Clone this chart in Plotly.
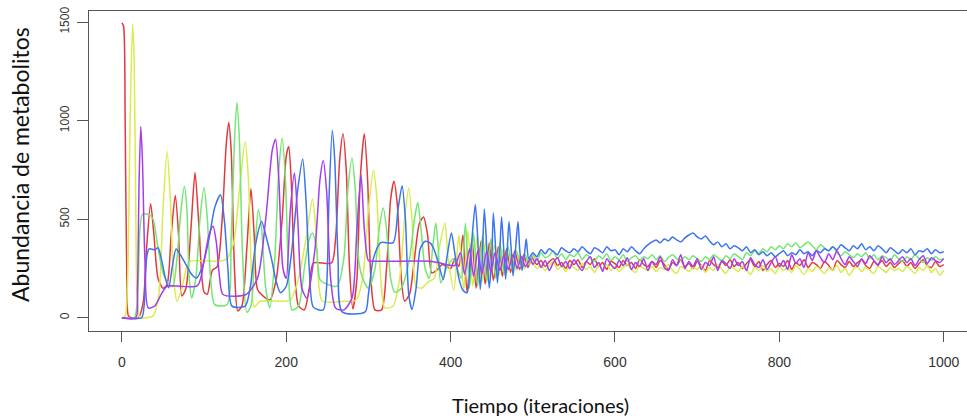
import plotly.graph_objects as go

# ---------------- data ----------------
red_early = [(0,1496),(2,1480),(4,1000),(6,200),(8,10),(12,0),(20,0),(26,80),(30,350),(35,578),(39,420),(44,200),(50,150),(55,170),(60,420),(65,620),(69,420),(73,110),(78,150),(84,450),(89,737),(94,450),(100,130),(104,120),(110,240),(116,260),(122,500),(127,880),(130,990),(133,850),(137,250),(141,35),(146,60),(152,350),(157,655),(161,420),(165,145),(172,110),(180,90),(188,200),(195,500),(200,820),(203,869),(206,700),(210,250),(215,60),(222,40),(228,150),(233,278),(255,278),(260,400),(265,800),(269,933),(273,750),(277,250),(281,45),(286,200),(290,700),(295,933),(299,700),(303,200),(308,40),(316,40),(322,250),(327,600),(331,692),(335,580),(340,200),(344,84),(350,120),(356,300),(362,480),(367,511),(372,420),(377,228),(383,240),(390,270),(400,250),(405,300),(410,260),(415,420),(420,130),(426,400),(431,150),(437,390),(442,170),(447,380),(452,190),(458,360),(463,210),(468,350),(473,230),(478,340),(484,245),(489,320),(494,255),(499,310)]

yellow_early = [(0,0),(4,10),(7,200),(10,1000),(13,1490),(15,1300),(17,500),(19,60),(22,0),(30,0),(38,10),(45,120),(50,550),(55,843),(59,600),(63,200),(67,84),(73,150),(79,260),(84,287),(120,287),(128,300),(136,380),(143,650),(150,894),(154,700),(157,300),(161,55),(168,84),(196,84),(205,90),(215,200),(224,400),(232,602),(236,450),(240,150),(244,84),(273,84),(285,90),(293,200),(300,550),(306,747),(310,620),(315,200),(320,50),(330,60),(338,200),(344,500),(349,658),(353,500),(358,160),(365,150),(372,180),(380,200),(386,350),(393,481),(397,300),(404,140),(410,420),(416,140),(421,440),(427,160),(432,410),(438,180),(443,390),(448,200),(453,370),(459,215),(464,350),(469,230),(474,330),(480,240),(485,320),(490,250),(495,300)]

green_early = [(0,0),(15,0),(19,100),(22,450),(25,525),(33,523),(38,500),(43,380),(50,230),(57,170),(62,160),(67,300),(72,550),(76,666),(79,560),(82,200),(85,101),(90,200),(95,500),(100,661),(104,500),(108,200),(113,67),(128,67),(133,400),(137,900),(140,1092),(143,900),(147,300),(152,28),(157,60),(162,350),(166,548),(170,450),(175,150),(180,50),(186,300),(191,750),(195,911),(199,700),(203,200),(207,40),(215,60),(222,250),(228,400),(232,430),(237,350),(241,194),(250,170),(262,160),(270,300),(275,650),(280,810),(284,650),(288,295),(293,200),(300,150),(308,250),(313,450),(318,557),(322,450),(327,200),(332,130),(340,150),(350,300),(356,500),(360,585),(364,450),(369,250),(374,200),(378,350),(382,481),(385,350),(388,177),(395,250),(403,300),(408,250),(413,200),(418,480),(423,150),(428,430),(433,160),(439,420),(444,180),(449,400),(455,200),(460,380),(465,220),(470,360),(475,240),(480,340),(486,255),(491,320),(496,270)]

blue_early = [(0,0),(24,0),(27,60),(30,300),(33,350),(40,345),(44,355),(48,300),(53,200),(57,152),(61,250),(66,349),(71,320),(78,270),(85,220),(91,202),(98,260),(106,400),(113,560),(120,624),(125,480),(129,250),(134,59),(150,59),(156,150),(163,380),(170,489),(175,420),(182,300),(188,180),(193,127),(200,160),(207,350),(214,650),(220,805),(224,600),(228,250),(233,54),(245,40),(249,150),(252,600),(256,950),(259,800),(263,300),(268,30),(296,30),(300,120),(306,300),(315,381),(330,381),(336,550),(341,670),(345,500),(349,120),(353,42),(358,150),(363,350),(369,388),(375,380),(379,355),(385,280),(391,194),(396,320),(401,430),(405,330),(410,200),(415,140),(420,127),(425,350),(430,574),(433,400),(436,143),(438,250),(441,552),(444,350),(447,150),(450,300),(452,532),(455,330),(457,177),(460,350),(462,511),(465,320),(467,195),(469,350),(471,489),(474,330),(476,212),(479,350),(482,489),(484,350),(487,240),(490,330),(492,400),(495,300)]

purple_early = [(0,0),(17,0),(19,150),(21,700),(23,970),(25,800),(28,300),(32,50),(40,60),(48,120),(55,160),(92,163),(100,290),(106,420),(111,464),(115,380),(119,200),(123,118),(151,118),(165,200),(175,500),(183,850),(187,906),(191,700),(196,250),(200,200),(205,550),(210,734),(214,500),(219,150),(225,100),(235,350),(241,700),(245,798),(249,650),(254,200),(260,50),(270,40),(280,100),(286,450),(291,726),(295,450),(300,290),(305,287),(375,287),(385,280),(395,270),(405,265),(412,330),(417,220),(423,350),(428,210),(433,340),(438,220),(444,340),(449,230),(454,330),(460,240),(465,320),(470,245),(476,320),(481,250),(486,310),(491,260),(497,300)]

late_t = list(range(500, 1001, 5))

red_late = [300,270,290,260,285,300,265,280,250,290,
            270,295,255,285,270,300,260,280,245,285,
            275,255,290,265,280,250,295,270,260,285,
            255,290,270,245,280,265,295,260,275,250,
            285,265,240,290,270,255,285,265,295,260,
            280,250,275,295,260,285,240,270,290,255,
            275,260,290,245,280,265,295,255,280,270,
            250,285,265,240,290,270,255,285,260,280,
            295,265,250,285,270,290,260,280,255,275,
            290,260,280,250,275,295,265,255,285,260,
            270]
yellow_late = [280,250,270,240,265,285,245,260,235,270,
               255,240,275,245,260,230,265,250,270,240,
               260,235,255,270,245,230,265,250,240,260,
               235,255,245,270,240,225,260,250,235,255,
               245,265,230,255,240,270,245,225,260,250,
               235,260,245,220,255,240,265,235,250,225,
               260,240,255,230,265,245,220,250,235,260,
               245,225,255,240,265,230,250,215,245,260,
               235,255,240,225,260,245,230,255,240,250,
               235,260,245,225,255,240,265,230,250,215,
               240]
green_late = [320,290,330,305,315,340,300,325,295,320,
              310,330,295,320,305,285,315,300,325,290,
              310,295,320,285,305,315,290,310,300,320,
              295,315,285,305,320,300,290,310,295,315,
              300,285,310,295,320,305,290,315,300,325,
              310,295,330,315,340,325,350,335,360,345,
              365,350,375,360,380,355,370,385,365,345,
              370,355,340,360,330,315,335,320,305,325,
              310,330,300,320,295,315,305,290,320,300,
              285,310,295,320,300,280,305,290,310,295,
              300]
blue_late = [330,310,345,325,350,335,320,355,340,330,
             350,335,360,340,325,355,345,330,360,340,
             345,320,350,335,360,340,325,350,370,385,
             395,380,400,390,410,395,385,405,420,430,
             410,400,415,390,370,385,360,375,350,365,
             355,340,360,330,345,320,335,315,330,310,
             325,340,315,330,320,345,325,335,315,340,
             330,350,340,360,345,370,355,340,365,350,
             375,345,360,340,365,350,330,355,340,325,
             345,330,350,320,340,335,350,325,345,330,
             335]
purple_late = [270,300,255,290,240,280,305,260,285,250,
               295,265,240,285,310,255,280,235,300,270,
               250,290,265,305,245,280,260,300,240,285,
               270,310,255,240,295,265,320,250,285,260,
               300,245,280,265,310,240,290,275,250,300,
               265,285,240,305,270,255,295,245,280,310,
               260,290,245,320,275,300,255,330,290,340,
               305,280,325,295,340,300,270,310,285,260,
               300,275,315,290,265,310,280,300,270,290,
               310,280,300,265,295,315,275,305,290,280,
               300]

series_names = ["rojo", "amarillo", "verde", "azul", "morado"]
series_colors = ["#E4393C", "#D9EC4C", "#74E674", "#3B74EE", "#A53DEE"]
x_ticks = [0, 200, 400, 600, 800, 1000]
y_ticks = [0, 500, 1000, 1500]

early_all = [red_early, yellow_early, green_early, blue_early, purple_early]
late_all = [red_late, yellow_late, green_late, blue_late, purple_late]

fig = go.Figure()
for name, col, early, late in zip(series_names, series_colors, early_all, late_all):
    xs = [p[0] for p in early] + late_t
    ys = [p[1] for p in early] + late
    fig.add_trace(go.Scatter(x=xs, y=ys, mode="lines", name=name,
                             line=dict(color=col, width=1.5, shape="spline", smoothing=0.7),
                             showlegend=False, hoverinfo="skip"))

W, H = 967, 418
L, R, T, B = 89, 0, 11, 87
pw, ph = W - L - R, H - T - B

def paper_xy(px, py):
    return (px - L) / pw, 1 - (py - T) / ph

tx, ty = paper_xy(540, 405)
ax_, ay_ = paper_xy(20, 165)

axis_col = "#555555"
fig.update_layout(
    width=W, height=H,
    margin=dict(l=L, r=R, t=T, b=B),
    paper_bgcolor="white", plot_bgcolor="white",
    xaxis=dict(range=[-40, 1028.3], tickvals=x_ticks, ticks="outside", ticklen=10,
               tickcolor=axis_col, showline=True, linecolor=axis_col, linewidth=1.2,
               mirror=True, showgrid=False, zeroline=False,
               tickfont=dict(family="Liberation Sans, Arial", size=14, color="#333333"),
               ticklabelstandoff=8),
    yaxis=dict(range=[-67, 1556], tickvals=y_ticks, ticks="outside", ticklen=11,
               tickcolor=axis_col, showline=True, linecolor=axis_col, linewidth=1.2,
               mirror=False, showgrid=False, zeroline=False, tickangle=-90,
               tickfont=dict(family="Liberation Sans, Arial", size=12, color="#333333"),
               ticklabelstandoff=3),
    annotations=[
        dict(text="Tiempo (iteraciones)", x=tx, y=ty, xref="paper", yref="paper",
             xanchor="center", yanchor="middle", showarrow=False,
             font=dict(family="Lato", size=20, color="#111111")),
        dict(text="Abundancia de metabolitos", x=ax_, y=ay_, xref="paper", yref="paper",
             xanchor="center", yanchor="middle", textangle=-90, showarrow=False,
             font=dict(family="Lato", size=23, color="#111111")),
    ],
)

fig.write_html("out.html")
